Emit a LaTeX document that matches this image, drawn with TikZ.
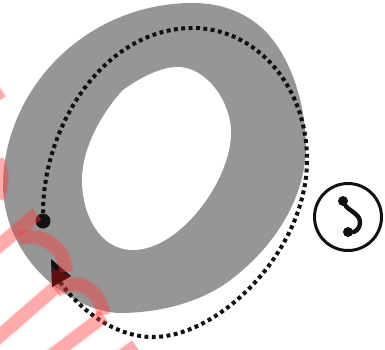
\documentclass[tikz,border=0pt]{standalone}
\usetikzlibrary{calc}
\definecolor{ringgray}{HTML}{979595}
\definecolor{inkblack}{HTML}{111111}
\definecolor{markred}{HTML}{FF3A3A}
\definecolor{darkmark}{HTML}{5C0E0E}

\begin{document}
\begin{tikzpicture}[
  x=0.02cm, y=-0.02cm,
  ring/.style   = {fill=ringgray, draw=none},
  hole/.style   = {fill=white, draw=none},
  orbit/.style  = {draw=inkblack, line width=2.3pt, dash pattern=on 2.2pt off 2pt},
  startdot/.style = {circle, fill=inkblack, inner sep=0pt, minimum size=0.3cm},
  symbox/.style = {circle, draw=inkblack, line width=1.7pt, inner sep=0pt, minimum size=1.34cm},
  symline/.style = {draw=inkblack, line width=2.5pt, line cap=round},
  blob/.style   = {circle, fill=inkblack, inner sep=0pt, minimum size=0.2cm},
  band/.style   = {draw=markred, draw opacity=0.38, line width=7.5pt},
  halo/.style   = {draw=markred, draw opacity=0.08, line width=9.5pt},
]
\useasboundingbox (0,0) rectangle (385,349);

% --- the ring ---
\fill[ring] (193,3) .. controls (225,3) and (250,15) .. (267,33)
  .. controls (290,58) and (305,100) .. (306,145)
  .. controls (306,195) and (277,247) .. (225,284)
  .. controls (190,307) and (150,313) .. (118,313)
  .. controls (70,310) and (5,260) .. (3,187)
  .. controls (3,90) and (85,3) .. (193,3) -- cycle;
\fill[hole] (178,67) .. controls (205,67) and (231,100) .. (231,133)
  .. controls (231,180) and (180,250) .. (133,250)
  .. controls (100,250) and (82,215) .. (82,180)
  .. controls (82,150) and (100,115) .. (123,90)
  .. controls (140,78) and (160,67) .. (178,67) -- cycle;

% --- dotted path round it ---
\node[startdot] (start) at (43,221) {};
\coordinate (tail) at (60,282);
\draw[orbit] (start) .. controls (43,125) and (105,28) .. (193,28)
  .. controls (255,28) and (307,85) .. (307,160)
  .. controls (307,250) and (220,337) .. (153,337)
  .. controls (115,337) and (80,310) .. (tail);
\fill[inkblack] (51,259) -- (71,276) -- (52,287) -- cycle;

% --- symbol on the right ---
\node[symbox] (sym) at (348,217) {};
\node[blob] (symtop) at (343,201) {};
\node[blob] (symbot) at (348,232) {};
\draw[symline] (symtop) .. controls (348,210) and (360,214) .. (360,222)
  .. controls (360,230) and (354,232) .. (symbot);

% --- pink marks laid over everything ---
\foreach \st in {halo,band} {
  \draw[\st] (-5,249) -- (37,214);
  \draw[\st] (-5,340) -- (56,287);
  \draw[\st] (47,359) -- (104,316);
  \draw[\st] (118,359) -- (136,346);
  \draw[\st] (19,238) .. controls (40,232) and (65,245) .. (66,272);
  \draw[\st] (56,291) .. controls (72,277) and (100,285) .. (103,315);
  \draw[\st] (-3,160) .. controls (3,172) and (3,185) .. (-3,198);
  \draw[\st] (-5,92) -- (0,100);
}
\fill[darkmark] (52,268) -- (71,276) -- (52,287) -- cycle;
\end{tikzpicture}
\end{document}
